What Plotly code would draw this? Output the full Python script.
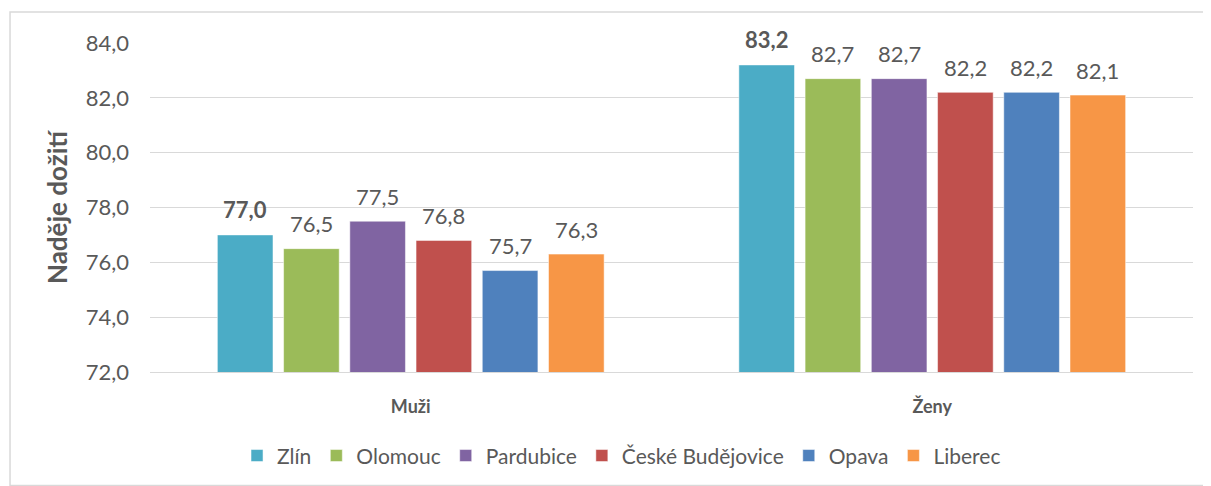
import plotly.graph_objects as go

categories = ["Muži", "Ženy"]
cities = ["Zlín", "Olomouc", "Pardubice", "České Budějovice", "Opava", "Liberec"]
zlin = [77.0, 83.2]
olomouc = [76.5, 82.7]
pardubice = [77.5, 82.7]
budejovice = [76.8, 82.2]
opava = [75.7, 82.2]
liberec = [76.3, 82.1]
colors = ["#4BACC6", "#9BBB59", "#8064A2", "#C0504D", "#4F81BD", "#F79646"]

series = [zlin, olomouc, pardubice, budejovice, opava, liberec]
grey = "#595959"
font = "Lato"
bargap = 0.238

fig = go.Figure()
n = len(series)
for i, (name, vals) in enumerate(zip(cities, series)):
    fig.add_trace(go.Bar(
        x=categories, y=vals, name=name,
        marker=dict(color=colors[i], line=dict(color="white", width=0.5)),
        hoverinfo="skip",
    ))
    # value labels, placed over the bar slot within the group
    off = (i - (n - 1) / 2) * (1 - bargap) / n
    for j, v in enumerate(vals):
        txt = f"{v:.1f}".replace(".", ",")
        if i == 0:
            txt = f"<b>{txt}</b>"
        fig.add_annotation(x=j + off, y=v, text=txt, showarrow=False,
                           yanchor="middle", yshift=25,
                           font=dict(family=font, size=22, color=grey))

# page body adds an 8px margin, so the figure is 8px smaller than the window
fig.update_layout(
    width=1203, height=478,
    separators=",.",
    barmode="group", bargap=bargap, bargroupgap=0.16,
    plot_bgcolor="white", paper_bgcolor="white",
    margin=dict(l=142, r=18, t=35, b=114, autoexpand=False),
    font=dict(family=font, color=grey),
    legend=dict(orientation="h", xref="container", x=0.51, xanchor="center",
                yref="container", y=0.063, yanchor="middle",
                font=dict(size=21, color=grey), itemwidth=30, traceorder="normal"),
    showlegend=True,
    shapes=[dict(type="rect", xref="paper", yref="paper",
                 x0=-0.1342, x1=1.03, y0=-0.345, y1=1.094,
                 line=dict(color="#D9D9D9", width=1.5), layer="below")],
)
fig.update_yaxes(range=[72, 84], dtick=2, tickformat=".1f", showgrid=True,
                 gridcolor="#D9D9D9", gridwidth=1, zeroline=False, showline=False,
                 automargin=False,
                 tickfont=dict(size=22, color=grey), ticklabelstandoff=20,
                 title=dict(text="Naděje dožití", font=dict(size=26, color=grey, weight="bold"),
                            standoff=10))
fig.update_xaxes(showline=True, linecolor="#D9D9D9", linewidth=1, ticks="",
                 automargin=False,
                 tickfont=dict(size=18, color=grey, weight="bold"), ticklabelstandoff=18)

fig.write_html("out.html")
